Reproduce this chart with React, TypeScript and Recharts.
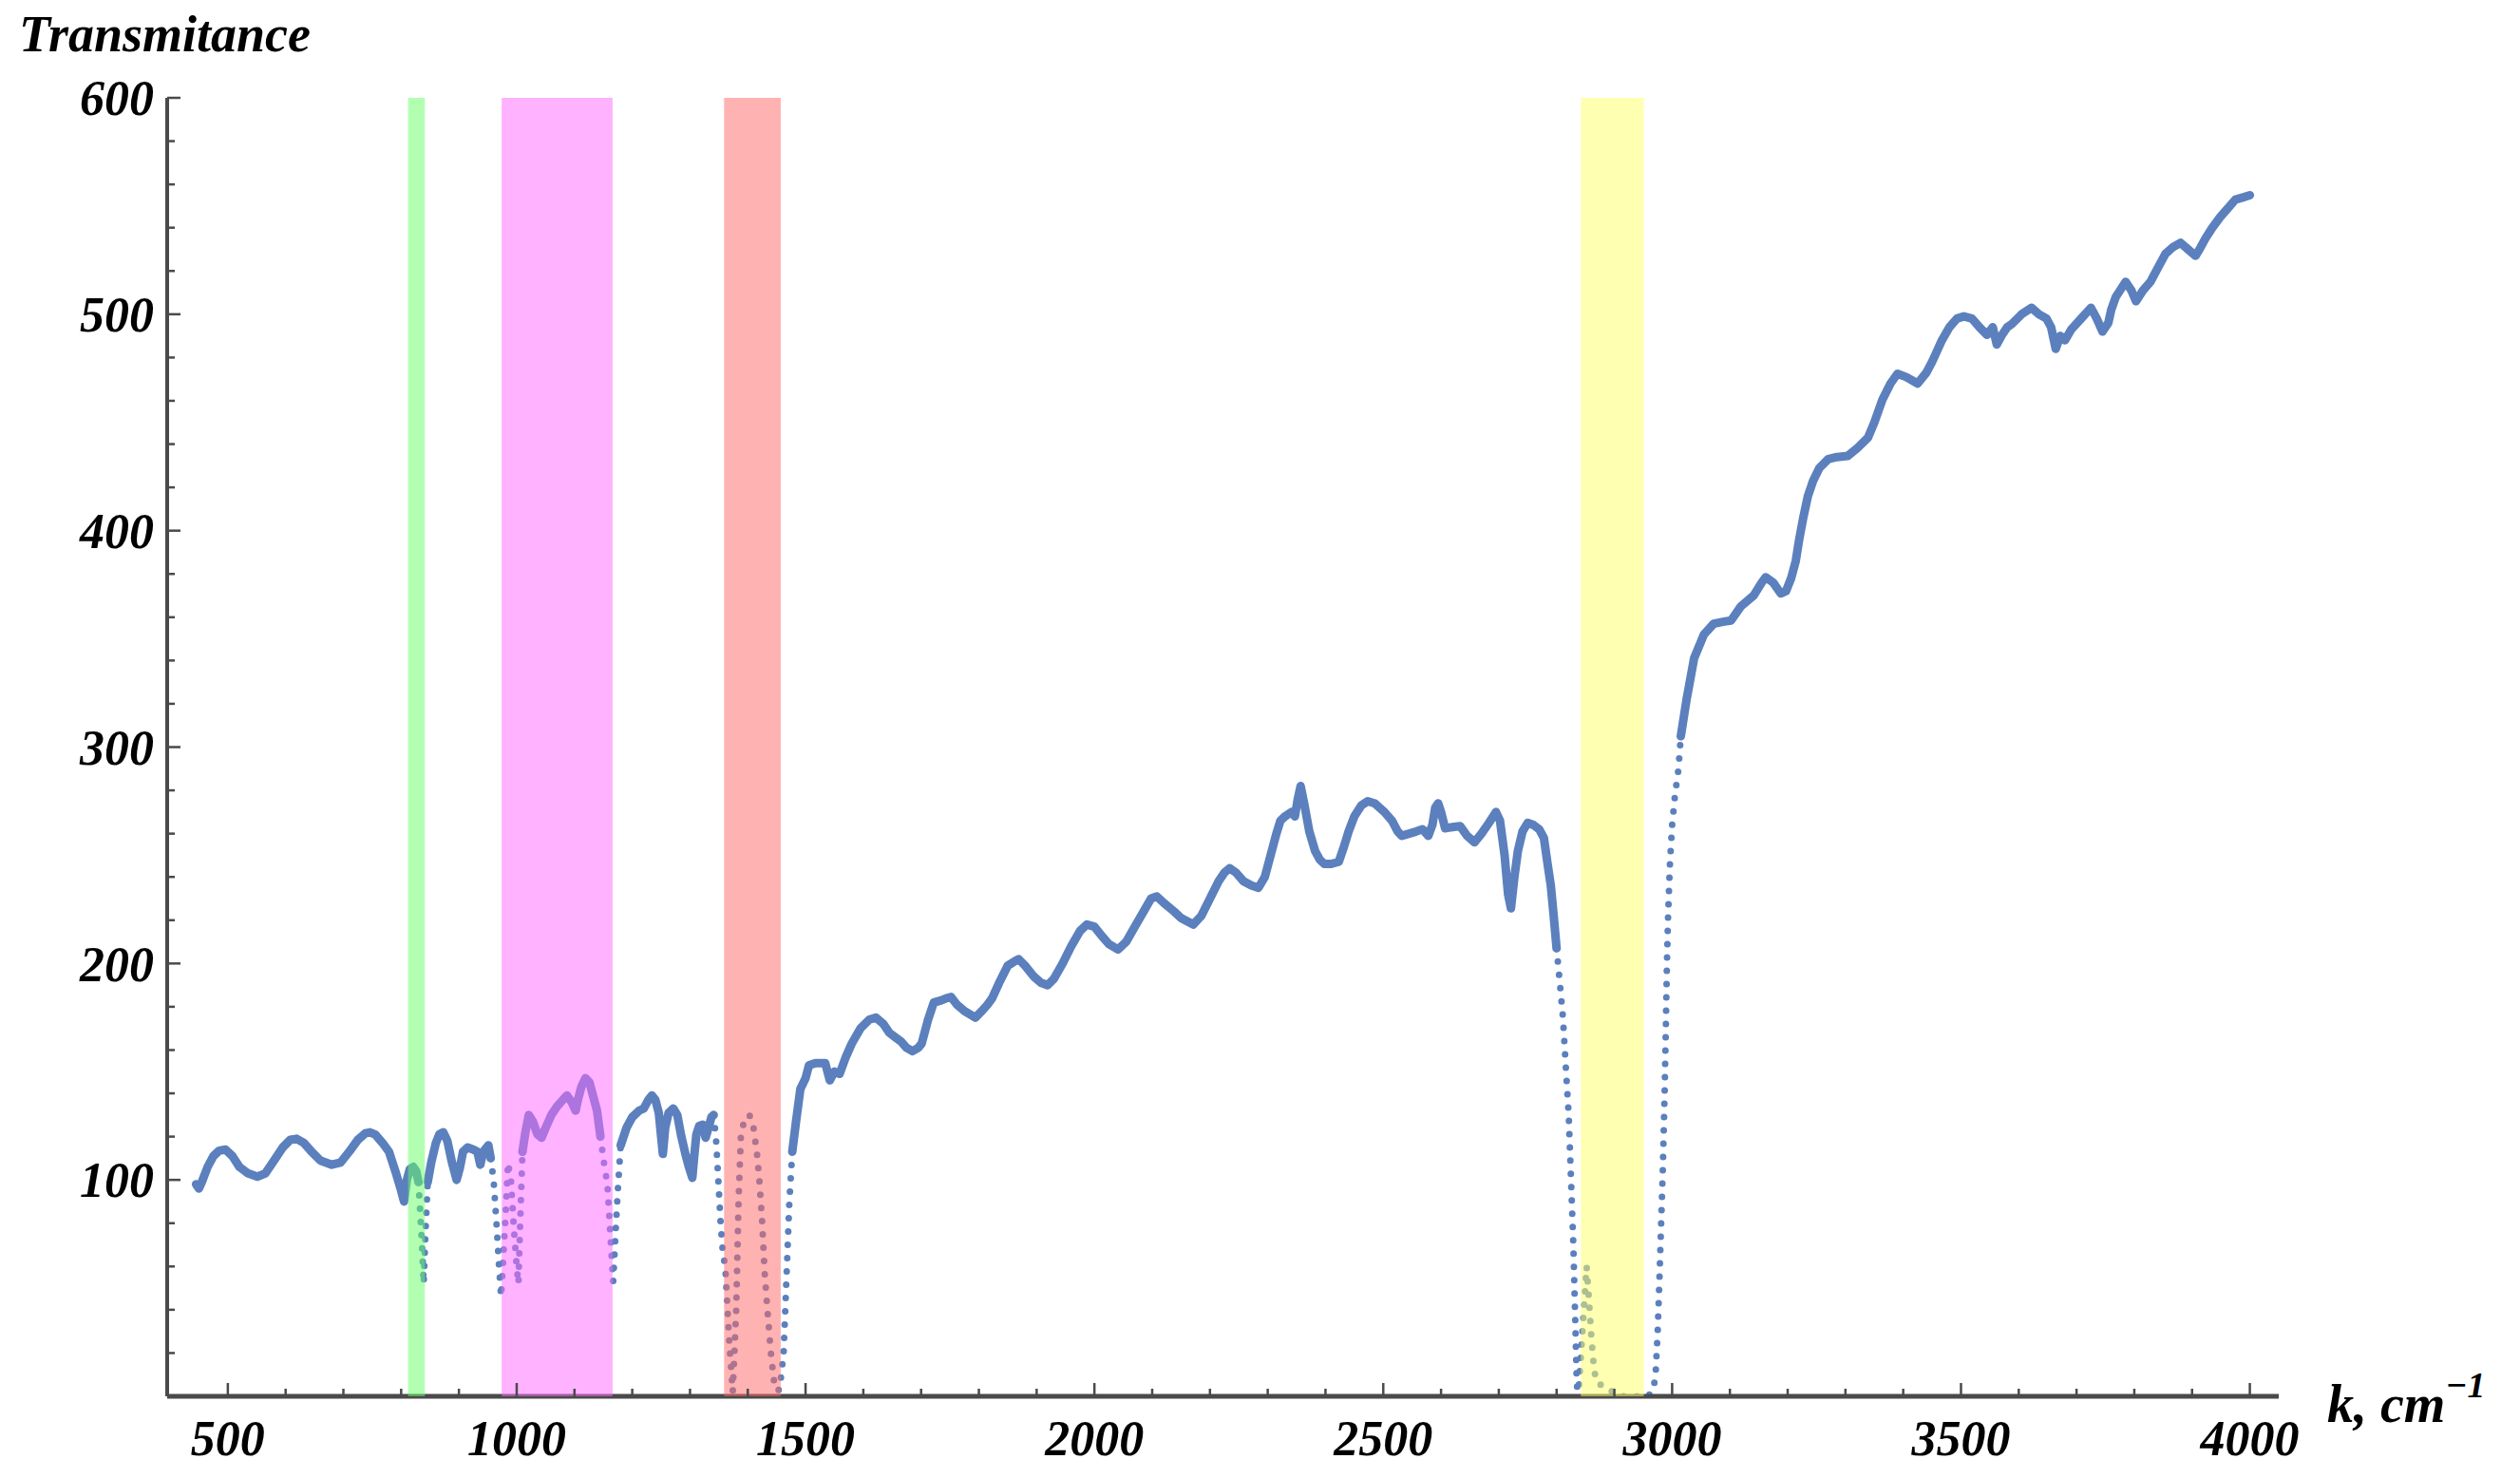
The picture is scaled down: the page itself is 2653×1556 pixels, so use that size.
import React from "react";
import { Line, LineChart, ReferenceArea, XAxis, YAxis } from "recharts";

// spectrum: [wavenumber cm^-1, transmittance]
const spectrumLow: [number, number][] = [
  [445, 98], [450, 96], [455, 99], [465, 106], [475, 111], [485, 113.5], [496, 114],
  [508, 111], [520, 106], [535, 103], [551, 101.5], [565, 103], [580, 109], [595, 115],
  [608, 118.5], [619, 119], [632, 117], [645, 113], [660, 109], [680, 107], [695, 108],
  [710, 113], [725, 118.5], [738, 121.5], [746, 122], [755, 121], [768, 117], [779, 113],
  [790, 104], [800, 95], [805, 90], [810, 100], [815, 105], [821, 106], [826, 104],
  [830, 99], [833, 85], [836, 70], [839, 52], [842, 75], [846, 99], [852, 108],
  [860, 117], [866, 121], [873, 122], [880, 118], [888, 108], [896, 100], [902, 106],
  [907, 113], [915, 115], [925, 114], [932, 113], [937, 107], [942, 113], [951, 116],
  [955, 110], [960, 100], [965, 80], [969, 62], [973, 46], [977, 65], [981, 85],
  [985, 108], [990, 100], [995, 78], [1000, 60], [1003, 52], [1006, 80], [1010, 113],
  [1015, 122], [1021, 130], [1028, 127], [1036, 121], [1043, 119.5], [1050, 124],
  [1060, 130], [1070, 134], [1080, 137], [1087, 139], [1095, 136], [1102, 132],
  [1106, 137], [1112, 143], [1119, 147], [1126, 145], [1133, 138], [1139, 132],
  [1145, 120], [1151, 108], [1157, 98], [1162, 75], [1167, 53], [1171, 75], [1175, 95],
  [1180, 116], [1190, 124], [1200, 129], [1212, 132], [1220, 133], [1228, 137],
  [1234, 139], [1240, 137], [1246, 131], [1250, 120], [1253, 112], [1257, 124],
  [1263, 131], [1271, 133], [1278, 130], [1285, 120], [1292, 112], [1298, 106],
  [1304, 101], [1307, 110], [1311, 121], [1316, 125], [1322, 125.5], [1327, 119.5],
  [1332, 124], [1337, 129], [1341, 130], [1345, 119], [1349, 100], [1353, 80],
  [1357, 66], [1361, 60], [1364, 45], [1368, 25], [1374, 2], [1380, 40], [1384, 90],
  [1388, 120], [1394, 128], [1403, 130], [1410, 124], [1416, 112], [1420, 100],
  [1425, 80], [1429, 58], [1434, 40], [1440, 20], [1447, 3], [1455, 3], [1462, 20],
  [1467, 55], [1472, 90], [1477, 113], [1484, 128],
];

const spectrumMid: [number, number][] = [
  [1491, 142], [1500, 147], [1506, 153], [1517, 154], [1525, 154], [1534, 154],
  [1542, 146], [1550, 150], [1559, 149], [1570, 157], [1580, 163], [1595, 170],
  [1610, 174], [1622, 175], [1635, 172], [1645, 168], [1655, 166], [1665, 164],
  [1675, 161], [1685, 159.5], [1695, 161], [1701, 163], [1712, 174], [1722, 182],
  [1735, 183], [1744, 184], [1752, 184.5], [1762, 181], [1775, 178], [1794, 175],
  [1805, 178], [1815, 181], [1823, 184], [1835, 191], [1850, 199], [1862, 201],
  [1869, 202], [1880, 199], [1895, 194], [1908, 191], [1919, 190], [1930, 193],
  [1945, 200], [1960, 208], [1975, 215], [1987, 218], [2000, 217], [2012, 213],
  [2025, 209], [2041, 206.5], [2055, 210], [2070, 217], [2085, 224], [2098, 230],
  [2108, 231], [2120, 228], [2138, 224], [2150, 221], [2171, 218], [2185, 222],
  [2200, 230], [2215, 238], [2225, 242], [2234, 244], [2245, 242], [2258, 238],
  [2272, 236], [2284, 235], [2295, 240], [2305, 250], [2315, 260], [2322, 266],
  [2330, 268], [2341, 270], [2347, 268], [2352, 276], [2357, 282], [2363, 274],
  [2372, 261], [2382, 252], [2390, 248], [2398, 246], [2410, 246], [2423, 247],
  [2432, 254], [2440, 261], [2450, 268], [2462, 273], [2473, 275], [2485, 274],
  [2502, 270], [2515, 266], [2525, 261], [2532, 259], [2545, 260], [2557, 261],
  [2568, 262], [2578, 259], [2585, 264], [2590, 272], [2595, 274], [2600, 270],
  [2607, 262.5], [2620, 263], [2633, 263.5], [2645, 259], [2658, 256], [2670, 260],
  [2683, 265], [2695, 270], [2702, 266], [2710, 250], [2716, 232], [2721, 225.5],
  [2727, 240], [2733, 252], [2741, 261], [2750, 265], [2760, 264], [2770, 262],
  [2778, 258], [2785, 245], [2790, 236], [2795, 222],
];

const spectrumHigh: [number, number][] = [
  [2800, 207], [2806, 190], [2811, 175], [2816, 152], [2821, 130], [2825, 100],
  [2829, 70], [2832, 38], [2835, 5], [2838, 2], [2852, 60], [2856, 45], [2860, 28],
  [2865, 12], [2870, 6], [2880, 5], [2890, 4], [2900, 1], [2915, 0], [2930, 0],
  [2945, 0], [2958, 0], [2965, 2], [2971, 8], [2975, 30], [2978, 54], [2981, 80],
  [2984, 106], [2987, 140], [2989, 169], [2991, 200], [2993, 222], [2996, 245],
  [3000, 264], [3005, 278], [3011, 290], [3015, 305], [3025, 322], [3038, 341],
  [3055, 352], [3072, 357], [3090, 358], [3102, 358.5], [3119, 365], [3141, 370],
  [3155, 376], [3162, 378.5], [3175, 376], [3188, 371], [3197, 372], [3206, 378],
  [3214, 386], [3220, 396], [3227, 406], [3235, 416], [3244, 423], [3255, 429],
  [3270, 433], [3285, 434], [3304, 434.5], [3320, 438], [3339, 443], [3350, 450],
  [3364, 460.5], [3378, 468], [3390, 472.5], [3405, 471], [3425, 468], [3440, 473],
  [3450, 478], [3467, 488], [3480, 494], [3493, 498], [3505, 499], [3519, 498],
  [3532, 494], [3545, 490.5], [3555, 494], [3562, 486], [3570, 490], [3580, 494],
  [3588, 495.5], [3605, 500], [3622, 503], [3635, 500], [3648, 498], [3656, 494],
  [3664, 484], [3672, 490], [3680, 488], [3691, 493], [3708, 498], [3725, 503],
  [3735, 498], [3745, 492], [3755, 496], [3760, 502], [3768, 508], [3785, 515],
  [3795, 511], [3803, 506], [3815, 511], [3828, 515], [3840, 521], [3854, 528],
  [3867, 531], [3880, 533], [3893, 530], [3906, 527], [3915, 531], [3923, 535],
  [3935, 540], [3949, 545], [3962, 549], [3975, 553], [3988, 554], [4000, 555],
];

// wavenumber stretches where the measured points are spread out (drawn dotted)
const sparseRanges: [number, number][] = [
  [830, 846],
  [955, 1010],
  [1145, 1180],
  [1341, 1477],
  [2800, 3015],
];

// highlighted absorption bands
const bands: [number, number][] = [
  [812, 841],
  [974, 1166],
  [1359, 1457],
  [2842, 2951],
];
const bandColors = ["#66ff66", "#ff66ff", "#ff6666", "#ffff66"];

const xMajor = [500, 1000, 1500, 2000, 2500, 3000, 3500, 4000];
const yMajor = [100, 200, 300, 400, 500, 600];
const xMinorStep = 100;
const yMinorStep = 20;

const xTicks = Array.from({ length: 36 }, (_, i) => 500 + i * xMinorStep);
const yTicks = Array.from({ length: 30 }, (_, i) => yMinorStep + i * yMinorStep);

const FONT = "'Liberation Serif', 'Times New Roman', serif";
const BLUE = "#5b80bd";
const AXIS = "#4a4a4a";

type Pt = { k: number; t: number };

// split the spectrum into runs of dense (solid) and sparse (dotted) points
function buildSegments() {
  const pts = [...spectrumLow, ...spectrumMid, ...spectrumHigh].map(
    ([k, t]) => ({ k, t })
  );
  const isSparse = (a: Pt, b: Pt) =>
    sparseRanges.some(([lo, hi]) => a.k >= lo && b.k <= hi);
  const segs: { sparse: boolean; data: Pt[] }[] = [];
  for (let i = 0; i < pts.length - 1; i++) {
    const s = isSparse(pts[i], pts[i + 1]);
    const last = segs[segs.length - 1];
    if (last && last.sparse === s) last.data.push(pts[i + 1]);
    else segs.push({ sparse: s, data: [pts[i], pts[i + 1]] });
  }
  return segs;
}

const XTick = (props: any) => {
  const { x, y, payload } = props;
  const major = xMajor.includes(payload.value);
  return (
    <g>
      <line x1={x} x2={x} y1={y} y2={y - (major ? 14 : 8)} stroke={AXIS} strokeWidth={2.5} />
      {major && (
        <text
          x={x}
          y={y + 62}
          textAnchor="middle"
          fontFamily={FONT}
          fontWeight="bold"
          fontStyle="italic"
          fontSize={52}
          fill="#000"
        >
          {payload.value}
        </text>
      )}
    </g>
  );
};

const YTick = (props: any) => {
  const { x, y, payload } = props;
  const major = yMajor.includes(payload.value);
  return (
    <g>
      <line x1={x} x2={x + (major ? 14 : 8)} y1={y} y2={y} stroke={AXIS} strokeWidth={2.5} />
      {major && (
        <text
          x={x - 14}
          y={y}
          dy="0.35em"
          textAnchor="end"
          fontFamily={FONT}
          fontWeight="bold"
          fontStyle="italic"
          fontSize={52}
          fill="#000"
        >
          {payload.value}
        </text>
      )}
    </g>
  );
};

export default function App() {
  const segments = buildSegments();
  return (
    <div
      style={{
        position: "absolute",
        left: 0,
        top: 0,
        width: 2653,
        height: 1556,
        background: "#fff",
      }}
    >
      <LineChart
        width={2653}
        height={1556}
        margin={{ top: 103, right: 254, bottom: 0, left: 0 }}
      >
        <XAxis
          type="number"
          dataKey="k"
          domain={[395, 4050]}
          ticks={xTicks}
          interval={0}
          tickSize={0}
          tickMargin={0}
          tickLine={false}
          tick={XTick}
          height={86}
          axisLine={{ stroke: AXIS, strokeWidth: 5 }}
          allowDataOverflow
        />
        <YAxis
          type="number"
          domain={[0, 600]}
          ticks={yTicks}
          interval={0}
          tickSize={0}
          tickMargin={0}
          tickLine={false}
          tick={YTick}
          width={176}
          axisLine={{ stroke: AXIS, strokeWidth: 4 }}
          allowDataOverflow
        />
        {segments.map((seg, i) => (
          <Line
            key={i}
            data={seg.data}
            dataKey="t"
            type="linear"
            stroke={BLUE}
            strokeWidth={seg.sparse ? 7 : 9}
            strokeDasharray={seg.sparse ? "0 14" : undefined}
            strokeLinecap="round"
            strokeLinejoin="round"
            dot={false}
            activeDot={false}
            isAnimationActive={false}
          />
        ))}
        {bands.map(([a, b], i) => (
          <ReferenceArea
            key={i}
            x1={a}
            x2={b}
            y1={0}
            y2={600}
            fill={bandColors[i]}
            fillOpacity={0.5}
            stroke="none"
            zIndex={700}
          />
        ))}
      </LineChart>
      <svg
        width={2653}
        height={1556}
        style={{ position: "absolute", left: 0, top: 0, pointerEvents: "none" }}
      >
        <text
          x={20}
          y={54}
          fontFamily={FONT}
          fontWeight="bold"
          fontStyle="italic"
          fontSize={54}
          fill="#000"
        >
          Transmitance
        </text>
        <text
          x={2450}
          y={1497}
          fontFamily={FONT}
          fontWeight="bold"
          fontStyle="italic"
          fontSize={56}
          fill="#000"
        >
          k, cm
          <tspan fontSize={38} dy={-26}>
            −1
          </tspan>
        </text>
      </svg>
    </div>
  );
}
